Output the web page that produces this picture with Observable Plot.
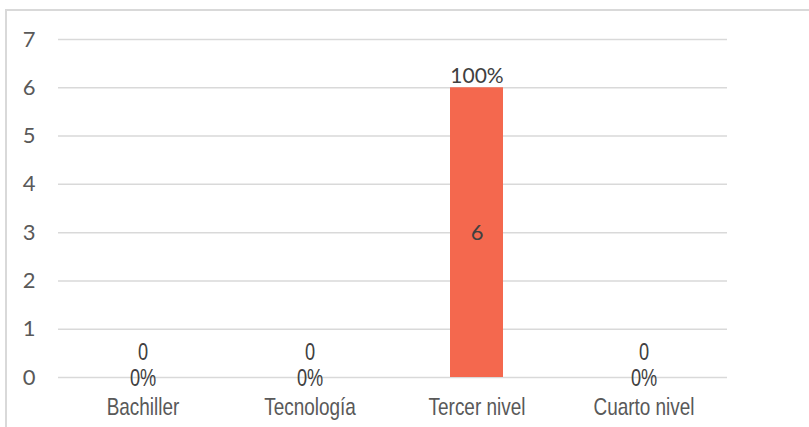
<!DOCTYPE html>
<html>
<head>
<meta charset="utf-8">
<script src="https://cdn.jsdelivr.net/npm/d3@7"></script>
<script src="https://cdn.jsdelivr.net/npm/@observablehq/plot@0.6"></script>
<style>
  html, body { margin: 0; padding: 0; background: #fff; }
  #wrap { position: relative; width: 809px; height: 427px; overflow: hidden; }
  #frame { position: absolute; left: 5px; top: 9px; width: 900px; height: 500px;
           border-left: 2px solid #d9d9d9; border-top: 2px solid #d9d9d9; box-sizing: border-box; }
  #chart { position: absolute; left: 0; top: 0; }
</style>
</head>
<body>
<div id="wrap"><div id="frame"></div><div id="chart"></div></div>
<script>
const categories = ["Bachiller", "Tecnología", "Tercer nivel", "Cuarto nivel"];
const values = [0, 0, 6, 0];
const percents = ["0%", "0%", "100%", "0%"];
const yTicks = [0, 1, 2, 3, 4, 5, 6, 7];

const data = categories.map((c, i) => ({ cat: c, value: values[i], pct: percents[i] }));

const narrow = "'Liberation Sans Narrow', 'Arial Narrow', 'Liberation Sans', Arial, sans-serif";
const calib = "Lato, 'Open Sans', sans-serif";

const chart = Plot.plot({
  width: 809,
  height: 427,
  marginLeft: 58,
  marginRight: 82,
  marginTop: 39,
  marginBottom: 50,
  style: { background: "transparent", overflow: "visible" },
  x: { domain: categories, paddingInner: 0.683, paddingOuter: 0.3415, label: null },
  y: { domain: [0, 7], label: null },
  marks: [
    Plot.gridY(yTicks, { stroke: "#d9d9d9", strokeOpacity: 1, strokeWidth: 1.5 }),
    Plot.axisY(yTicks, { tickSize: 0, tickPadding: 23, fontSize: 22, fontFamily: calib, fill: "#595959", label: null, tickFormat: d => String(d) }),
    Plot.axisX({ tickSize: 0, tickPadding: 20, fontSize: 24, fontFamily: narrow, fill: "#595959", label: null }),
    Plot.barY(data, { x: "cat", y: "value", fill: "#F4684E" }),
    Plot.text(data.filter(d => d.value > 0), {
      x: "cat", y: d => d.value / 2, text: d => String(d.value),
      fontSize: 22, fill: "#404040", fontFamily: calib
    }),
    Plot.text(data.filter(d => d.value === 0), {
      x: "cat", y: "value", text: d => String(d.value), dy: -25,
      fontSize: 23, fill: "#404040", fontFamily: narrow
    }),
    Plot.text(data.filter(d => d.value > 0), {
      x: "cat", y: "value", text: "pct", dy: -12,
      fontSize: 21, fill: "#404040", fontFamily: calib
    }),
    Plot.text(data.filter(d => d.value === 0), {
      x: "cat", y: "value", text: "pct", dy: 1,
      fontSize: 23, fill: "#404040", fontFamily: narrow
    })
  ]
});
document.getElementById("chart").appendChild(chart);

// emulate a condensed (narrow) face by horizontally squeezing those labels about their centres
chart.querySelectorAll("g[font-family*='Narrow'] text").forEach(t => {
  const b = t.getBBox();
  const cx = b.x + b.width / 2;
  const tr = t.getAttribute("transform") || "";
  t.setAttribute("transform", `${tr} translate(${cx},0) scale(0.79,1) translate(${-cx},0)`);
});
</script>
</body>
</html>
